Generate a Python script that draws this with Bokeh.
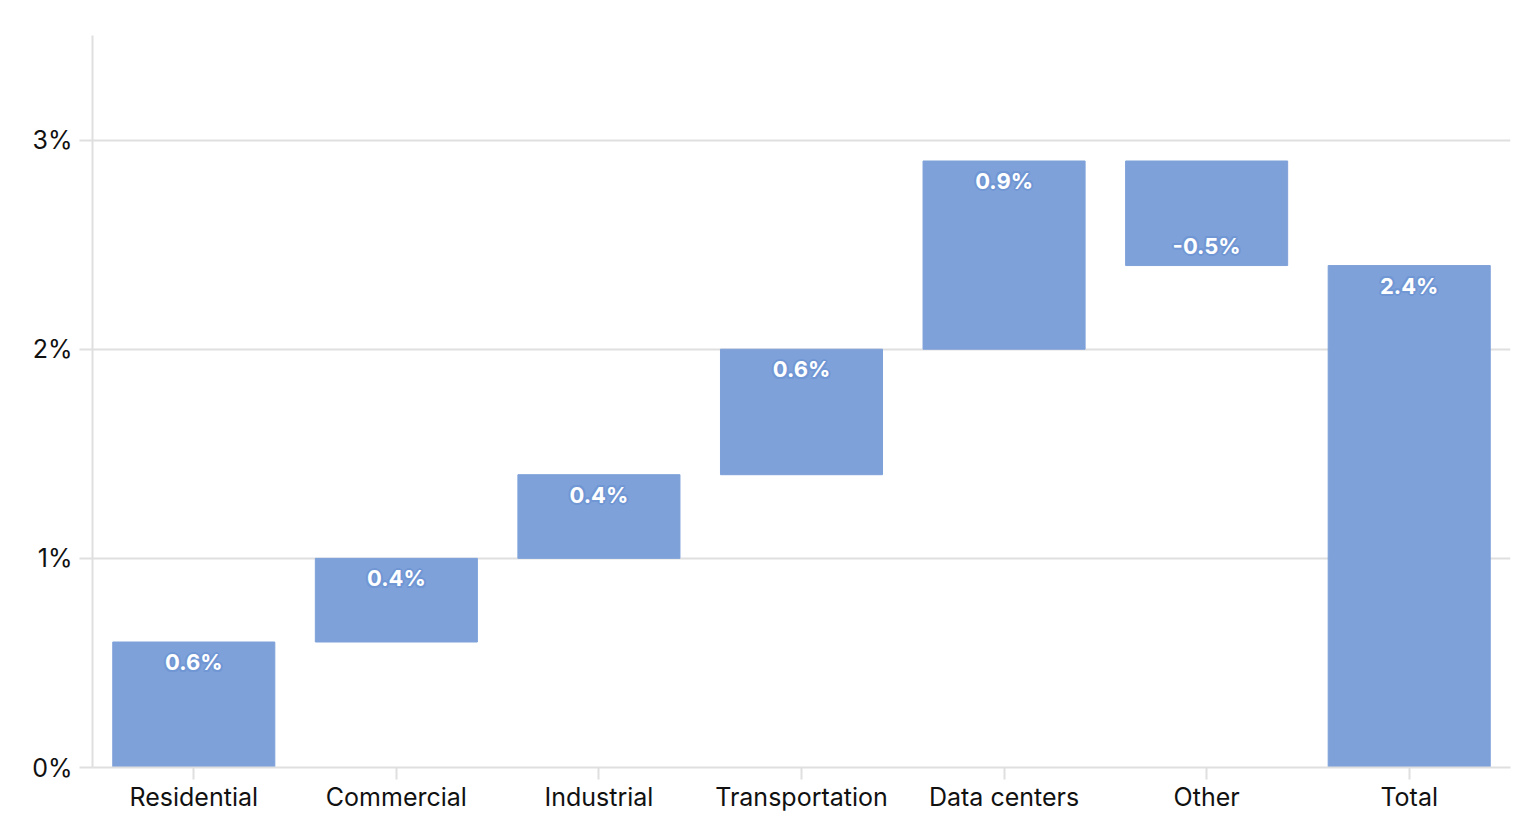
from bokeh.plotting import figure
from bokeh.models import ColumnDataSource, FactorRange, Range1d, FixedTicker, CustomJSTickFormatter
from bokeh.core.properties import value
from bokeh.embed import file_html
from bokeh.resources import INLINE

categories = ["Residential", "Commercial", "Industrial", "Transportation", "Data centers", "Other", "Total"]
deltas = [0.6, 0.4, 0.4, 0.6, 0.9, -0.5]
y_ticks = [0, 1, 2, 3]

starts, ends = [], []
acc = 0.0
for d in deltas:
    starts.append(acc)
    acc = round(acc + d, 4)
    ends.append(acc)
starts.append(0.0)
ends.append(acc)
vals = deltas + [acc]
labels = [f"{v:.1f}%" for v in vals]
offsets = [20 if v >= 0 else -20 for v in vals]

FONT = "Inter"
BAR = "#7EA1D9"
HALO = "#7096d4"
GRID = "#dfdfdf"

p = figure(x_range=FactorRange(*categories, range_padding=0), y_range=Range1d(0, 3.5),
           width=1532, height=830, output_backend="svg", toolbar_location=None,
           min_border_left=92, min_border_right=22, min_border_top=35, min_border_bottom=63)
p.outline_line_color = None
p.background_fill_color = "white"

src = ColumnDataSource(dict(cat=categories, bottom=starts, top=ends))
p.vbar(x="cat", bottom="bottom", top="top", width=0.8, source=src,
       fill_color=BAR, line_color=BAR, line_width=1)

halo_shifts = [(-2, 0), (2, 0), (0, -2), (0, 2), (-1.5, -1.5), (1.5, 1.5), (-1.5, 1.5), (1.5, -1.5)]
layers = [(dx, dy, HALO) for dx, dy in halo_shifts] + [(0, 0, "white")]
for dx, dy, col in layers:
    s = ColumnDataSource(dict(cat=categories, y=ends, lab=labels, off=[o + dy for o in offsets]))
    p.text(x="cat", y="y", text="lab", source=s, y_offset="off", x_offset=dx,
           text_align="center", text_baseline="middle",
           text_font=value(FONT), text_font_style="bold", text_font_size="22px",
           text_color=col)

p.xgrid.grid_line_color = None
p.ygrid.grid_line_color = GRID
p.ygrid.grid_line_width = 2

p.yaxis.ticker = FixedTicker(ticks=y_ticks)
p.yaxis.formatter = CustomJSTickFormatter(code="return tick.toFixed(0) + '%';")
for ax in (p.xaxis[0], p.yaxis[0]):
    ax.axis_line_color = GRID
    ax.axis_line_width = 2
    ax.major_tick_line_color = GRID
    ax.major_tick_line_width = 2
    ax.minor_tick_line_color = None
    ax.major_label_text_font = FONT
    ax.major_label_text_font_size = "25px"
    ax.major_label_text_color = "#111111"
p.yaxis.major_tick_out = 13
p.yaxis.major_tick_in = 0
p.yaxis.major_label_standoff = 7
p.xaxis.major_tick_out = 12
p.xaxis.major_tick_in = 0
p.xaxis.major_label_standoff = 2

open("out.html", "w").write(file_html(p, INLINE))
